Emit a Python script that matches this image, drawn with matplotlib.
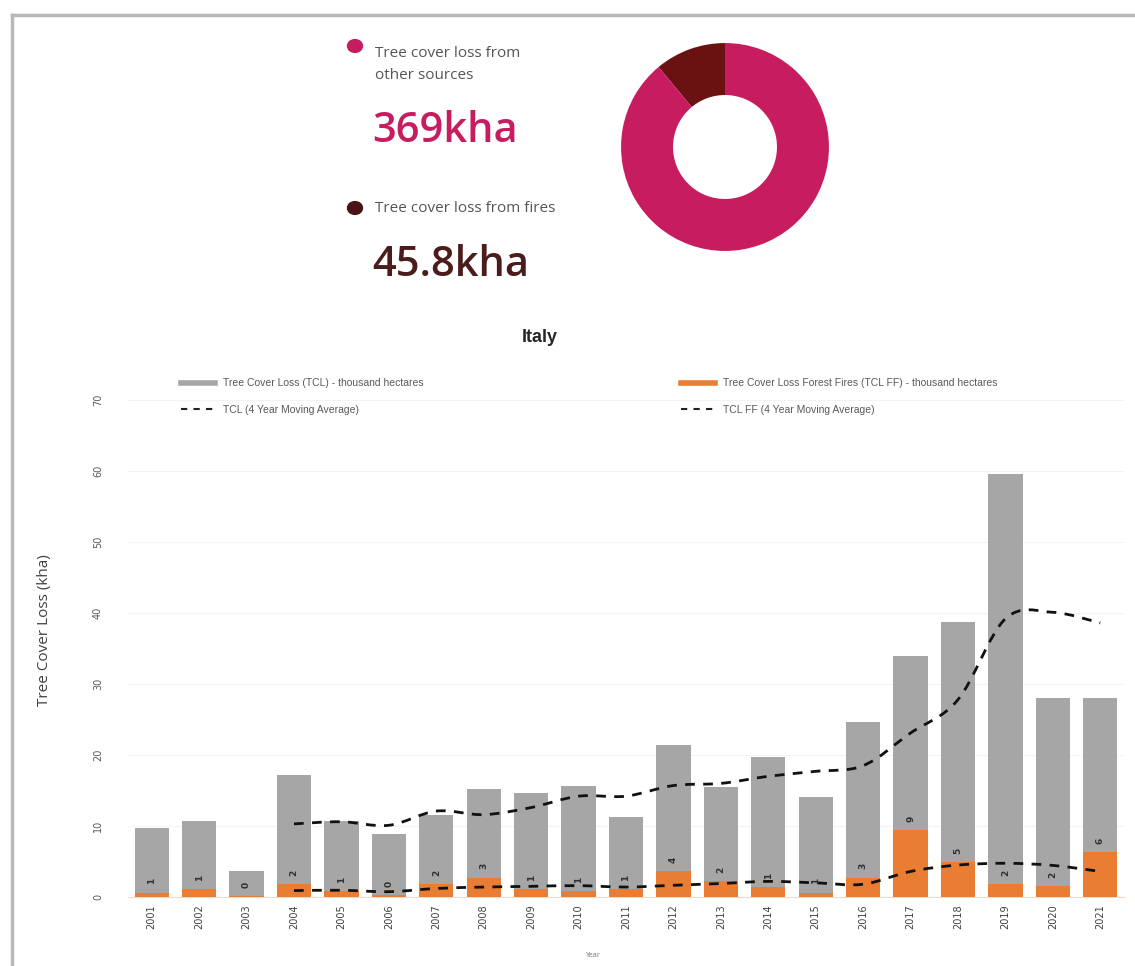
import numpy as np
import matplotlib
matplotlib.use("Agg")
import matplotlib.pyplot as plt
from matplotlib.path import Path
from matplotlib.patches import PathPatch, Circle
from matplotlib.lines import Line2D

# data (thousand hectares)
years = list(range(2001, 2022))
tcl = [9.7, 10.7, 3.7, 17.2, 10.7, 8.9, 11.5, 15.2, 14.6, 15.6, 11.3,
       21.4, 15.5, 19.7, 14.1, 24.6, 33.9, 38.7, 59.6, 28.0, 28.0]
tcl_ff = [0.6, 1.1, 0.1, 1.8, 0.8, 0.3, 1.8, 2.7, 1.1, 0.8, 1.1,
          3.6, 2.2, 1.4, 0.6, 2.7, 9.4, 4.9, 1.8, 1.5, 6.3]
ma_years = list(range(2004, 2022))
tcl_ma = [10.3, 10.6, 10.1, 12.1, 11.6, 12.6, 14.2, 14.2, 15.7, 16.0,
          17.0, 17.7, 18.5, 23.1, 27.8, 39.2, 40.1, 38.6]
ff_ma = [0.9, 0.95, 0.75, 1.2, 1.4, 1.5, 1.6, 1.4, 1.65, 1.9,
         2.2, 2.0, 1.8, 3.6, 4.5, 4.75, 4.45, 3.6]

donut_labels = ["Tree cover loss from fires", "Tree cover loss from\nother sources"]
donut_values = [45.8, 369]
donut_text = ["45.8kha", "369kha"]

PINK = "#c81c61"
DARK = "#6a1212"
DOT_DARK = "#4a1414"
GRAY = "#a6a6a6"
ORANGE = "#e87d33"

W, H = 1135, 966
fig = plt.figure(figsize=(W / 100, H / 100), dpi=100)
fig.patch.set_facecolor("white")


def px(x, y):
    return x / W, 1 - y / H


ui_font = ["Open Sans", "DejaVu Sans"]
xl_font = ["Liberation Sans Narrow", "Liberation Sans", "DejaVu Sans"]

# outer frame
fig.add_artist(Line2D([12 / W, 1], [1 - 15 / H, 1 - 15 / H], color="#b8b8b8", lw=2.5))
fig.add_artist(Line2D([12 / W, 12 / W], [0, 1 - 15 / H], color="#b8b8b8", lw=2.5))

# --- summary block ---
for (lab, val, yl, yv, c_dot, c_val) in [
        (donut_labels[1], donut_text[1], 46, 131, PINK, PINK),
        (donut_labels[0], donut_text[0], 208, 265, DOT_DARK, "#4a1c1c")]:
    fig.add_artist(Circle(px(355, yl), 7.5 / W, color=c_dot,
                          transform=fig.transFigure))
    fig.text(*px(375, yl), lab, fontsize=11, color="#555555", va="top" if "\n" in lab else "center",
             family=ui_font, linespacing=1.6)
    fig.text(*px(372, yv), val, fontsize=30, color=c_val, va="center",
             family=ui_font, fontweight="semibold")

ax_d = fig.add_axes([620 / W, 1 - 252 / H, 210 / W, 210 / H])
ax_d.pie(donut_values, colors=[DARK, PINK], startangle=90, counterclock=True,
         wedgeprops=dict(width=0.5, edgecolor="none"), radius=1)
ax_d.set_xlim(-1.01, 1.01)
ax_d.set_ylim(-1.01, 1.01)
ax_d.set_aspect("equal")
ax_d.axis("off")

# --- bar chart ---
ax = fig.add_axes([128 / W, 1 - 897 / H, (1124 - 128) / W, (897 - 400) / H])
x = np.arange(len(years))
ax.bar(x, tcl, width=0.72, color=GRAY, zorder=2)
ff_bars = ax.bar(x, tcl_ff, width=0.72, color=ORANGE, zorder=3)
ax.bar_label(ff_bars, fmt="%.0f", rotation=90, padding=6, fontsize=6.5,
             color="#303030", fontweight="bold", zorder=5)


def smooth_path(xs, ys):
    pts = np.column_stack([xs, ys]).astype(float)
    n = len(pts)
    verts = [pts[0]]
    codes = [Path.MOVETO]
    for i in range(n - 1):
        p0 = pts[max(i - 1, 0)]
        p1 = pts[i]
        p2 = pts[i + 1]
        p3 = pts[min(i + 2, n - 1)]
        verts += [p1 + (p2 - p0) / 6, p2 - (p3 - p1) / 6, p2]
        codes += [Path.CURVE4] * 3
    return Path(verts, codes)


ma_x = [years.index(y) for y in ma_years]
for series in (tcl_ma, ff_ma):
    ax.add_patch(PathPatch(smooth_path(ma_x, series), fill=False, color="#111111",
                           lw=2.0, ls=(0, (3.5, 3)), zorder=4))

ax.set_xlim(-0.5, len(years) - 0.5)
ax.set_ylim(0, 70)
ax.set_yticks(range(0, 71, 10))
ax.set_xticks(x)
ax.set_xticklabels(years)
ax.tick_params(axis="x", length=0, pad=5, labelsize=7, labelrotation=90, labelcolor="#404040")
ax.tick_params(axis="y", length=0, pad=18, labelsize=7, labelrotation=90, labelcolor="#595959")
for t in ax.get_yticklabels():
    t.set_va("center")
ax.grid(axis="y", color="#f3f3f3", lw=0.8, zorder=0)
for s in ["top", "right", "left"]:
    ax.spines[s].set_visible(False)
ax.spines["bottom"].set_color("#f0d9c8")
ax.set_facecolor("none")

fig.text(*px(540, 338), "Italy", fontsize=13, fontweight="bold", ha="center",
         va="center", color="#262626", family=xl_font)
fig.text(*px(45, 630), "Tree Cover Loss (kha)", fontsize=11, rotation=90,
         ha="center", va="center", color="#404040", family=ui_font)
fig.text(*px(592, 955), "Year", fontsize=5, ha="center", va="center", color="#808080")

# legends
h_tcl = Line2D([], [], color=GRAY, lw=4)
h_ff = Line2D([], [], color=ORANGE, lw=4)
h_tcl_ma = Line2D([], [], color="#222222", lw=1.5, ls=(0, (3, 3)))
h_ff_ma = Line2D([], [], color="#222222", lw=1.5, ls=(0, (3, 3)))
leg_kw = dict(frameon=False, handlelength=3.2, labelspacing=1.6,
              loc="upper left", prop={"family": xl_font, "size": 7.5})
fig.legend([h_tcl, h_tcl_ma],
           ["Tree Cover Loss (TCL) - thousand hectares", "TCL (4 Year Moving Average)"],
           bbox_to_anchor=px(172, 369), labelcolor="#595959", **leg_kw)
fig.legend([h_ff, h_ff_ma],
           ["Tree Cover Loss Forest Fires (TCL FF) - thousand hectares",
            "TCL FF (4 Year Moving Average)"],
           bbox_to_anchor=px(672, 369), labelcolor="#595959", **leg_kw)

fig.savefig("out.png", dpi=100, facecolor="white")
